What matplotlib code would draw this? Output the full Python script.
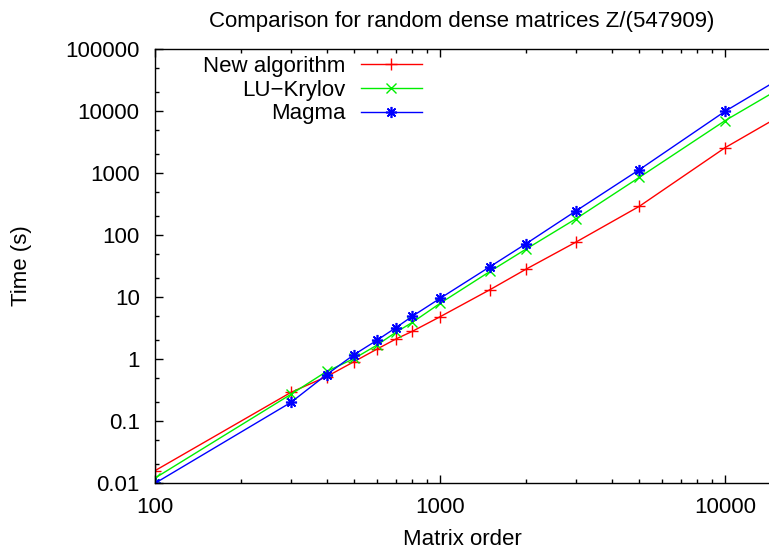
import numpy as np
import matplotlib
matplotlib.use('Agg')
import matplotlib.pyplot as plt
from matplotlib.ticker import LogLocator, FixedLocator, NullFormatter

plt.rcParams['font.family'] = ['Liberation Sans', 'DejaVu Sans']

# matrix orders and timings (seconds)
order = [100, 300, 400, 500, 600, 700, 800, 1000, 1500, 2000, 3000, 5000, 10000, 15000]
t_new = [0.0158, 0.29, 0.52, 0.91, 1.44, 2.1, 2.8, 4.8, 13.2, 28, 77, 290, 2560, 7500]
t_lu = [0.012, 0.27, 0.63, 1.02, 1.67, 2.7, 3.9, 7.9, 26, 59, 183, 850, 7000, 20800]
t_magma = [0.0099, 0.20, 0.56, 1.18, 2.0, 3.2, 4.9, 9.5, 31, 72, 245, 1130, 9900, 30000]

yticks = [0.01, 0.1, 1, 10, 100, 1000, 10000, 100000]
ylabels = ['0.01', '0.1', '1', '10', '100', '1000', '10000', '100000']
xticks = [100, 1000, 10000]
xlabels = ['100', '1000', '10000']

fig = plt.figure(figsize=(7.69, 5.54), dpi=100)
ax = fig.add_axes([155/769, 71/554, 1 - 155/769, (483-49)/554])

ax.plot(order, t_new, color='#ff0000', lw=1, marker='+', ms=8, mew=1,
        label='New algorithm')
ax.plot(order, t_lu, color='#00ee00', lw=1, marker='x', ms=7, mew=1,
        label='LU\u2212Krylov')
ax.plot(order, t_magma, color='#0000ff', lw=1, marker=(8, 2, 0), ms=8, mew=1.2,
        label='Magma')

ax.set_xscale('log')
ax.set_yscale('log')
ax.set_xlim(100, 10**4.154)
ax.set_ylim(0.01, 100000)

ax.xaxis.set_major_locator(FixedLocator(xticks))
ax.set_xticklabels(xlabels)
ax.xaxis.set_minor_locator(LogLocator(base=10, subs=np.arange(2, 10)))
ax.xaxis.set_minor_formatter(NullFormatter())
ax.yaxis.set_major_locator(FixedLocator(yticks))
ax.set_yticklabels(ylabels)
ax.yaxis.set_minor_locator(LogLocator(base=10, subs=[2, 5]))
ax.yaxis.set_minor_formatter(NullFormatter())

ax.tick_params(which='both', direction='in', top=True, right=False,
               labelsize=16, width=1)
ax.tick_params(which='major', length=6)
ax.tick_params(which='minor', length=3)
ax.tick_params(axis='x', pad=10)
ax.tick_params(axis='y', pad=11)
ax.spines['right'].set_visible(False)
for s in ['left', 'bottom', 'top']:
    ax.spines[s].set_linewidth(1)

ax.set_title('Comparison for random dense matrices Z/(547909)', fontsize=16, pad=16)
ax.set_xlabel('Matrix order', fontsize=16, labelpad=8)
ax.set_ylabel('Time (s)', fontsize=16, labelpad=24)

ax.legend(loc='upper right', bbox_to_anchor=(422/769, 1 - 56/554),
          bbox_transform=fig.transFigure, frameon=False, markerfirst=False,
          fontsize=16, handlelength=2.75, handletextpad=0.7, borderpad=0,
          borderaxespad=0, labelspacing=0.12)

fig.savefig('out.png', dpi=100)
